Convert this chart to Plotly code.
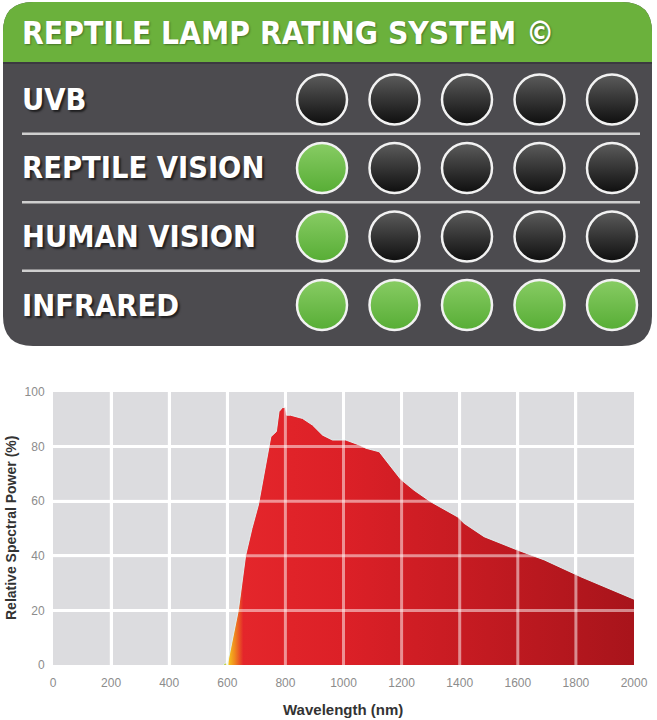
import plotly.graph_objects as go

W, H = 657, 720

# rating panel
panel_title = "REPTILE LAMP RATING SYSTEM ©"
rows = ["UVB", "REPTILE VISION", "HUMAN VISION", "INFRARED"]
ratings = [0, 1, 1, 5]
max_rating = 5

# spectrum
wavelength = [585, 595, 600, 620, 638, 663, 685, 707, 727, 744, 750, 769, 778, 790,
              800, 804, 818, 859, 893, 928, 962, 1008, 1054, 1077, 1123, 1158, 1197,
              1243, 1300, 1392, 1415, 1484, 1599, 1691, 1817, 2000]
power = [0, 0.8, 0, 10, 20, 40, 50, 58.6, 70.8, 80.4, 83.6, 85.5, 92.8, 94.3,
         94.3, 91.5, 91.5, 90.3, 87.9, 84.2, 82.4, 82.4, 80.6, 79.4, 78.1, 73.3, 68,
         64, 59.8, 54.3, 51.9, 47, 42.1, 38.5, 32.3, 24.1]
x_ticks = [0, 200, 400, 600, 800, 1000, 1200, 1400, 1600, 1800, 2000]
y_ticks = [0, 20, 40, 60, 80, 100]

GREEN = "#6bb13c"
BODY = "#4c4b4f"
NARROW = "Liberation Sans Narrow, DejaVu Sans Condensed, Arial Narrow, sans-serif"
SANS = "Liberation Sans, Arial, sans-serif"


def px(x):
    return x / W


def py(y):
    return 1 - y / H


def rounded_path(x0, y0, x1, y1, r, top=True, bottom=True):
    # pixel box -> paper path with quadratic corners
    p = []
    if top:
        p.append(f"M{px(x0)},{py(y0 + r)} Q{px(x0)},{py(y0)} {px(x0 + r)},{py(y0)}")
        p.append(f"L{px(x1 - r)},{py(y0)} Q{px(x1)},{py(y0)} {px(x1)},{py(y0 + r)}")
    else:
        p.append(f"M{px(x0)},{py(y0)} L{px(x1)},{py(y0)}")
    if bottom:
        p.append(f"L{px(x1)},{py(y1 - r)} Q{px(x1)},{py(y1)} {px(x1 - r)},{py(y1)}")
        p.append(f"L{px(x0 + r)},{py(y1)} Q{px(x0)},{py(y1)} {px(x0)},{py(y1 - r)}")
    else:
        p.append(f"L{px(x1)},{py(y1)} L{px(x0)},{py(y1)}")
    return " ".join(p) + " Z"


fig = go.Figure()

# spectrum area
span = wavelength[-1] - wavelength[0]
stops = [(585, "#8bbf3a"), (600, "#f5cf1f"), (625, "#f08a1e"), (655, "#e4262b"),
         (1000, "#dc2027"), (2000, "#a8141b")]
fig.add_trace(go.Scatter(
    x=wavelength, y=power, mode="lines", fill="tozeroy",
    line=dict(color="rgba(225,245,245,0.9)", width=1),
    fillgradient=dict(type="horizontal", start=wavelength[0], stop=wavelength[-1],
                      colorscale=[[(w - wavelength[0]) / span, c] for w, c in stops]),
    hoverinfo="skip", showlegend=False, xaxis="x", yaxis="y",
))

# rating dots (vertical gradient: marker colour on top, gradient colour at bottom)
dot_x, dot_y, dot_c, dot_g = [], [], [], []
for row, r in zip(rows, ratings):
    for i in range(1, max_rating + 1):
        dot_x.append(i)
        dot_y.append(row)
        on = i <= r
        dot_c.append("#88cc64" if on else "#5c5c5c")
        dot_g.append("#57ad35" if on else "#0e0e0e")
fig.add_trace(go.Scatter(
    x=dot_x, y=dot_y, mode="markers", xaxis="x2", yaxis="y2",
    marker=dict(size=50, color=dot_c,
                gradient=dict(type="vertical", color=dot_g),
                line=dict(color="#f2f2f2", width=2.5)),
    hoverinfo="skip", showlegend=False,
))

shapes = [
    dict(type="path", xref="paper", yref="paper", layer="below",
         path=rounded_path(3, 2, 652, 346, 30), fillcolor=BODY, line=dict(width=0)),
    dict(type="path", xref="paper", yref="paper", layer="below",
         path=rounded_path(3, 2, 652, 62, 30, top=True, bottom=False),
         fillcolor=GREEN, line=dict(width=0)),
    dict(type="line", xref="paper", yref="paper", layer="below",
         x0=px(3), x1=px(652), y0=py(63), y1=py(63), line=dict(color="#3b3940", width=2)),
    # chart background
    dict(type="rect", xref="x domain", yref="y domain", layer="below",
         x0=0, x1=1, y0=0, y1=1, fillcolor="#dcdcdf", line=dict(width=0)),
]
for k in range(len(rows) - 1):
    shapes.append(dict(type="line", xref="paper", yref="y2", layer="below",
                       x0=px(22), x1=px(640), y0=k + 0.5, y1=k + 0.5,
                       line=dict(color="#cfcfcf", width=2.5)))
# grid showing through the fill
for t in x_ticks[1:-1]:
    shapes.append(dict(type="line", xref="x", yref="y domain", x0=t, x1=t, y0=0, y1=1,
                       line=dict(color="rgba(255,255,255,0.5)", width=3)))
for t in y_ticks[1:-1]:
    shapes.append(dict(type="line", xref="x domain", yref="y", x0=0, x1=1, y0=t, y1=t,
                       line=dict(color="rgba(255,255,255,0.5)", width=3)))

annotations = [
    dict(text=f"<b>{panel_title}</b>", xref="paper", yref="paper", x=px(20), y=py(33),
         xanchor="left", yanchor="middle", showarrow=False,
         font=dict(family=NARROW, size=31.5, color="white", shadow="1px 1px 2px rgba(0,0,0,0.35)")),
    dict(text="<b>Wavelength (nm)</b>", xref="paper", yref="paper", x=px(343), y=py(709),
         xanchor="center", yanchor="middle", showarrow=False,
         font=dict(family=SANS, size=15, color="#333333")),
    dict(text="<b>Relative Spectral Power (%)</b>", xref="paper", yref="paper", x=px(11),
         y=py(528), textangle=-90, xanchor="center", yanchor="middle", showarrow=False,
         font=dict(family=SANS, size=14, color="#333333")),
]
for row in rows:
    annotations.append(dict(text=f"<b>{row}</b>", xref="paper", yref="y2", x=px(20), y=row,
                            xanchor="left", yanchor="middle", showarrow=False,
                            font=dict(family=NARROW, size=30.5, color="white",
                                      shadow="2px 2px 2px rgba(0,0,0,0.6)")))

fig.update_layout(
    width=W, height=H,
    # fixed margins: tick labels must not push the plot area inwards
    margin=dict(l=0, r=0, t=0, b=0, autoexpand=False),
    paper_bgcolor="white", plot_bgcolor="rgba(0,0,0,0)",
    shapes=shapes, annotations=annotations,
    xaxis=dict(domain=[px(53), px(634)], range=[0, 2000], tickvals=x_ticks, automargin=False,
               showgrid=True, gridcolor="white", gridwidth=3, zeroline=False,
               showline=False, ticks="outside", ticklen=7, tickcolor="rgba(0,0,0,0)",
               tickfont=dict(family=SANS, size=12, color="#8c8c8c")),
    yaxis=dict(domain=[py(665), py(392)], range=[0, 100], tickvals=y_ticks, automargin=False,
               showgrid=True, gridcolor="white", gridwidth=3, zeroline=False,
               showline=False, ticks="outside", ticklen=5, tickcolor="rgba(0,0,0,0)",
               tickfont=dict(family=SANS, size=12, color="#8c8c8c")),
    xaxis2=dict(domain=[px(285.75), px(648.25)], range=[0.5, 5.5], visible=False,
                automargin=False),
    yaxis2=dict(domain=[py(339.25), py(65.25)], type="category", categoryorder="array",
                categoryarray=rows, range=[3.5, -0.5], visible=False, automargin=False),
)

# no body margin / scrollbars, so the 657x720 figure fills the window exactly
fig.write_html("out.html", config={"displayModeBar": False},
               post_script="document.documentElement.style.overflow='hidden';"
                           "document.body.style.margin='0';"
                           "document.body.style.overflow='hidden';")
